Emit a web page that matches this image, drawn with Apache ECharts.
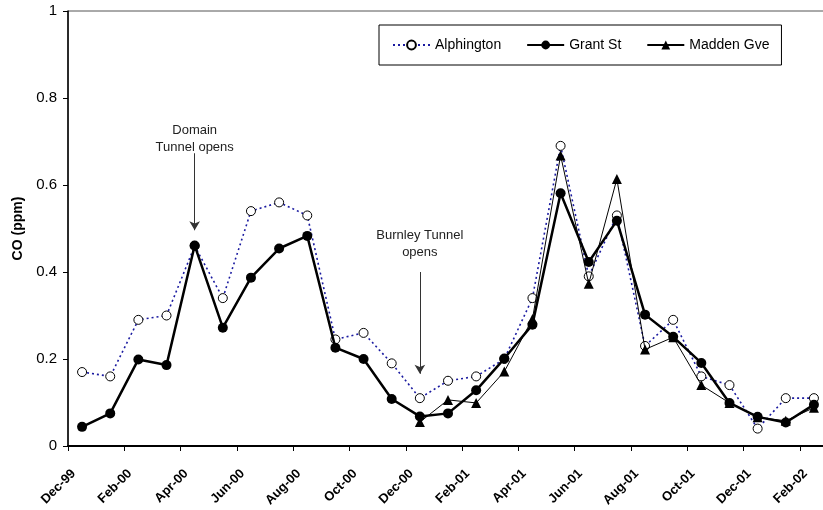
<!DOCTYPE html>
<html>
<head>
<meta charset="utf-8">
<script src="https://cdn.jsdelivr.net/npm/echarts@6/dist/echarts.min.js"></script>
<style>
  html, body { margin: 0; padding: 0; background: #fff; overflow: hidden; width: 823px; height: 510px; }
  /* the plot frame runs a few pixels past the right edge of the page */
  #chart { width: 829px; height: 510px; }
</style>
</head>
<body>
<div id="chart"></div>
<script>
// Monthly mean CO concentrations (ppm) at three monitoring sites
const months = ['Dec-99','Jan-00','Feb-00','Mar-00','Apr-00','May-00','Jun-00','Jul-00','Aug-00',
  'Sep-00','Oct-00','Nov-00','Dec-00','Jan-01','Feb-01','Mar-01','Apr-01','May-01','Jun-01',
  'Jul-01','Aug-01','Sep-01','Oct-01','Nov-01','Dec-01','Jan-02','Feb-02'];

const alphington = [0.17, 0.16, 0.29, 0.30, 0.46, 0.34, 0.54, 0.56, 0.53, 0.245, 0.26, 0.19, 0.11,
  0.15, 0.16, 0.20, 0.34, 0.69, 0.39, 0.53, 0.23, 0.29, 0.16, 0.14, 0.04, 0.11, 0.11];

const grantSt = [0.044, 0.075, 0.199, 0.186, 0.461, 0.272, 0.387, 0.454, 0.483, 0.226, 0.200, 0.108,
  0.068, 0.075, 0.128, 0.201, 0.279, 0.581, 0.423, 0.518, 0.302, 0.251, 0.191, 0.099, 0.067, 0.054, 0.095];

const maddenGve = [null, null, null, null, null, null, null, null, null, null, null, null,
  0.055, 0.106, 0.099, 0.171, 0.292, 0.668, 0.373, 0.614, 0.222, 0.25, 0.14, 0.099, 0.066, 0.058, 0.088];

// Tunnel opening events: [month, label text, arrow top, arrow tip, label centre]
const events = [
  ['Apr-00', 'Domain\nTunnel opens', 0.673, 0.496, 0.707],
  ['Dec-00', 'Burnley Tunnel\nopens', 0.400, 0.166, 0.4655]
];

const FONT = 'Arial, "Liberation Sans", sans-serif';

const chart = echarts.init(document.getElementById('chart'), null, { renderer: 'canvas' });

chart.setOption({
  backgroundColor: '#fff',
  animation: false,
  textStyle: { fontFamily: FONT, color: '#000' },
  grid: {
    left: 68, top: 11, right: 1, height: 435,
    show: true, borderColor: '#555', borderWidth: 1, backgroundColor: '#fff'
  },
  legend: {
    left: 379, top: 25,
    padding: [13, 12, 13, 13],
    borderColor: '#000', borderWidth: 1,
    itemWidth: 37, itemHeight: 11, itemGap: 25,
    textStyle: { fontFamily: FONT, fontSize: 14, color: '#000' },
    data: ['Alphington', 'Grant St', 'Madden Gve']
  },
  xAxis: {
    type: 'category',
    data: months,
    boundaryGap: true,
    axisLine: { lineStyle: { color: '#000', width: 2 } },
    axisTick: { show: true, interval: 1, length: 5, inside: false, lineStyle: { color: '#000', width: 1 } },
    axisLabel: {
      interval: 1, rotate: 45, margin: 17,
      padding: [0, 12, 0, 0],
      fontFamily: FONT, fontSize: 13, fontWeight: 'bold', color: '#000'
    },
    splitLine: { show: false }
  },
  yAxis: {
    type: 'value',
    min: 0, max: 1, interval: 0.2,
    name: 'CO (ppm)',
    nameLocation: 'middle',
    nameRotate: 90,
    nameGap: 42,
    nameTextStyle: { fontFamily: FONT, fontSize: 14, fontWeight: 'bold', color: '#000' },
    axisLine: { show: true, lineStyle: { color: '#000', width: 1.5 } },
    axisTick: { show: true, length: 5, lineStyle: { color: '#000', width: 1 } },
    axisLabel: { margin: 11, fontFamily: FONT, fontSize: 15, color: '#000' },
    splitLine: { show: false }
  },
  series: [
    {
      name: 'Alphington',
      type: 'line',
      data: alphington,
      symbol: 'circle',
      symbolSize: 9,
      itemStyle: { color: '#fff', borderColor: '#000', borderWidth: 1 },
      lineStyle: { color: '#1a1aa0', width: 1.6, type: [2, 3] },
      z: 2
    },
    {
      name: 'Grant St',
      type: 'line',
      data: grantSt,
      symbol: 'circle',
      symbolSize: 10,
      itemStyle: { color: '#000' },
      lineStyle: { color: '#000', width: 2.5 },
      z: 3,
      markLine: {
        silent: true,
        symbol: ['none', 'arrow'],
        symbolSize: [8, 9],
        lineStyle: { color: '#333', width: 1, type: 'solid' },
        label: { show: false },
        data: events.map(e => [
          { coord: [e[0], e[2]] },
          { coord: [e[0], e[3]] }
        ])
      },
      markPoint: {
        silent: true,
        symbol: 'rect',
        symbolSize: 1,
        itemStyle: { color: 'rgba(0,0,0,0)' },
        label: {
          show: true, position: 'inside',
          fontFamily: FONT, fontSize: 13, lineHeight: 17, color: '#222', align: 'center'
        },
        data: events.map(e => ({
          coord: [e[0], e[4]],
          label: { formatter: e[1] }
        }))
      }
    },
    {
      name: 'Madden Gve',
      type: 'line',
      data: maddenGve,
      symbol: 'triangle',
      symbolSize: 10,
      itemStyle: { color: '#000' },
      lineStyle: { color: '#000', width: 1 },
      connectNulls: false,
      z: 4
    }
  ]
});
</script>
</body>
</html>
